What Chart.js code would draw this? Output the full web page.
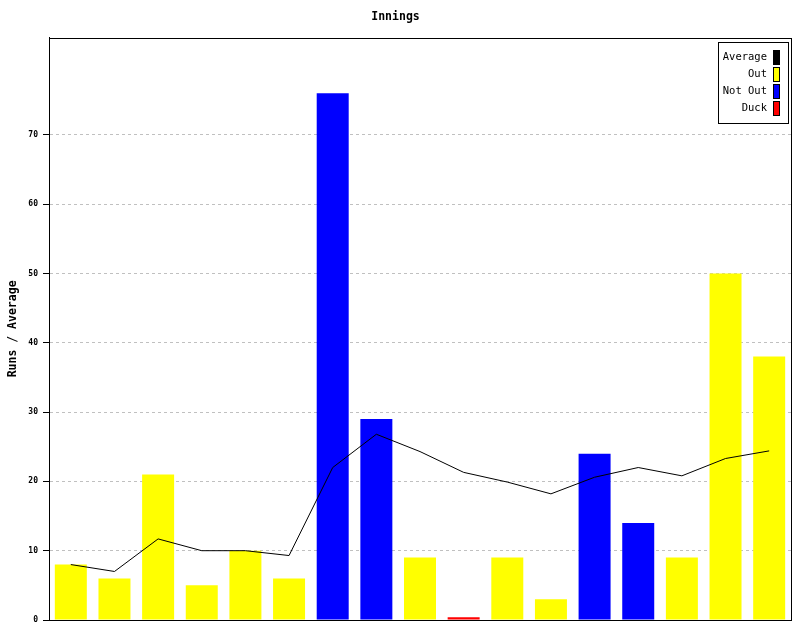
<!DOCTYPE html>
<html>
<head>
<meta charset="utf-8">
<script src="https://cdn.jsdelivr.net/npm/chart.js@4"></script>
<style>
  html, body { margin: 0; padding: 0; background: #fff; }
  #wrap { width: 800px; height: 640px; }
</style>
</head>
<body>
<div id="wrap"><canvas id="chart"></canvas></div>
<script>
// innings 1..17
const innings = ["1", "2", "3", "4", "5", "6", "7", "8", "9", "10", "11", "12", "13", "14", "15", "16", "17"];
const outRuns = [8, 6, 21, 5, 10, 6, null, null, 9, null, 9, 3, null, null, 9, 50, 38];
const notOutRuns = [null, null, null, null, null, null, 76, 29, null, null, null, null, 24, 14, null, null, null];
const duckRuns = [null, null, null, null, null, null, null, null, null, 0.4, null, null, null, null, null, null, null];
const average = [8, 7, 11.7, 10, 10, 9.3, 22, 26.8, 24.3, 21.3, 19.9, 18.2, 20.6, 22, 20.8, 23.3, 24.4];
const yTicks = [0, 10, 20, 30, 40, 50, 60, 70];

const mono = "'DejaVu Sans Mono', monospace";

// frame round the plot + legend box in top right corner
const framePlugin = {
  id: "frame",
  afterDraw(chart) {
    const { ctx, chartArea: a } = chart;
    ctx.save();
    ctx.strokeStyle = "#000";
    ctx.lineWidth = 1;
    ctx.strokeRect(Math.round(a.left) + 0.5, Math.round(a.top) + 0.5, Math.round(a.right - a.left), Math.round(a.bottom - a.top));

    const items = [
      { label: "Average", color: "#000000" },
      { label: "Out", color: "#ffff00" },
      { label: "Not Out", color: "#0000ff" },
      { label: "Duck", color: "#ff0000" },
    ];
    const bx = 718, by = 42, bw = 70, bh = 81;
    ctx.fillStyle = "#fff";
    ctx.fillRect(bx, by, bw, bh);
    ctx.strokeRect(bx + 0.5, by + 0.5, bw, bh);
    ctx.font = "10.5px " + mono;
    ctx.textAlign = "right";
    ctx.textBaseline = "middle";
    items.forEach((it, i) => {
      const cy = by + 15 + i * 17;
      ctx.fillStyle = "#000";
      ctx.fillText(it.label, 767, cy);
      ctx.fillStyle = it.color;
      ctx.fillRect(773, cy - 7, 7, 15);
      ctx.strokeRect(773.5, cy - 6.5, 6, 14);
    });
    ctx.restore();
  },
};

const barCommon = {
  type: "bar",
  grouped: false,
  barPercentage: 0.733,
  categoryPercentage: 1,
  borderWidth: 0,
  order: 1,
};

new Chart(document.getElementById("chart"), {
  type: "bar",
  data: {
    labels: innings,
    datasets: [
      {
        type: "line",
        label: "Average",
        data: average,
        borderColor: "#000",
        borderWidth: 1,
        pointRadius: 0,
        tension: 0,
        fill: false,
        order: 0,
      },
      { ...barCommon, label: "Out", data: outRuns, backgroundColor: "#ffff00" },
      { ...barCommon, label: "Not Out", data: notOutRuns, backgroundColor: "#0000ff" },
      { ...barCommon, label: "Duck", data: duckRuns, backgroundColor: "#ff0000" },
    ],
  },
  options: {
    responsive: true,
    maintainAspectRatio: false,
    animation: false,
    layout: { padding: { left: 0, right: 9, top: 0, bottom: 20 } },
    plugins: {
      legend: { display: false },
      tooltip: { enabled: false },
      title: {
        display: true,
        text: "Innings",
        color: "#000",
        font: { family: mono, size: 11.5, weight: "bold" },
        padding: { top: 10.5, bottom: 13.5 },
      },
    },
    scales: {
      x: {
        ticks: { display: false },
        grid: { display: true, drawOnChartArea: false, drawTicks: false },
        border: { color: "#000", width: 1 },
        afterFit: (scale) => { scale.height = 0; },
      },
      y: {
        min: 0,
        max: 84,
        z: 1,
        afterBuildTicks: (scale) => { scale.ticks = yTicks.map((v) => ({ value: v })); },
        afterFit: (scale) => { scale.width = 49; },
        ticks: {
          color: "#000",
          padding: 5,
          font: { family: mono, size: 8, weight: "bold" },
        },
        grid: {
          color: "#c0c0c0",
          lineWidth: 1,
          tickBorderDash: [],
          tickColor: "#000",
          tickLength: 6,
        },
        border: { color: "#000", width: 1, dash: [3, 3] },
        title: {
          display: true,
          text: "Runs / Average",
          color: "#000",
          font: { family: mono, size: 11.5, weight: "bold" },
          padding: { top: 6, bottom: 0 },
        },
      },
    },
  },
  plugins: [framePlugin],
});
</script>
</body>
</html>
